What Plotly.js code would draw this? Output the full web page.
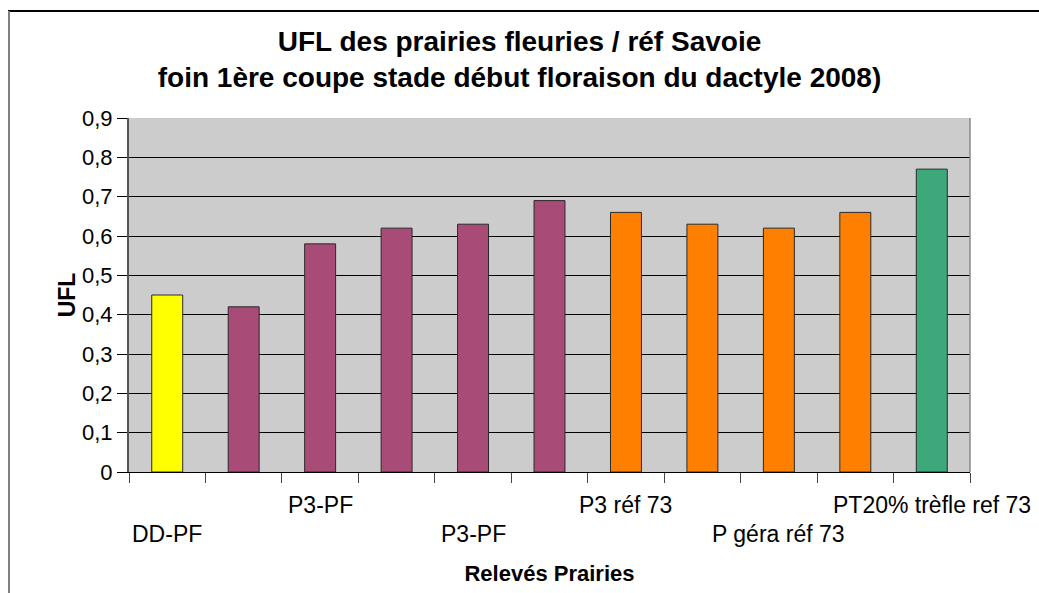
<!DOCTYPE html>
<html>
<head>
<meta charset="utf-8">
<script src="https://cdn.plot.ly/plotly-3.0.1.min.js"></script>
<style>
  html, body { margin: 0; padding: 0; background: #ffffff; }
  #chart { width: 1039px; height: 593px; }
</style>
</head>
<body>
<div id="chart"></div>
<script>
// ---- data ----
const categories = ["DD-PF", "", "P3-PF", "", "P3-PF", "", "P3 réf 73", "", "P géra réf 73", "", "PT20% trèfle ref 73"];
const ufl = [0.45, 0.42, 0.58, 0.62, 0.63, 0.69, 0.66, 0.63, 0.62, 0.66, 0.77];
const groups = ["DD", "PF", "PF", "PF", "PF", "PF", "REF", "REF", "REF", "REF", "PT"];
const labelRow = [2, 0, 1, 0, 2, 0, 1, 0, 2, 0, 1]; // 1 = upper row, 2 = lower row (Excel staggering)
const yTicks = [0, 0.1, 0.2, 0.3, 0.4, 0.5, 0.6, 0.7, 0.8, 0.9];

// ---- styles ----
const groupColors = { DD: "#FFFF00", PF: "#A94B77", REF: "#FF8000", PT: "#3DA87A" };
const FONT = "Liberation Sans, Arial, sans-serif";

const xIdx = categories.map((_, i) => i);
const boundaries = [];
for (let i = 0; i <= categories.length; i++) boundaries.push(i - 0.5);

const trace = {
  type: "bar",
  x: xIdx,
  y: ufl,
  marker: {
    color: groups.map(g => groupColors[g]),
    line: { color: "#2a2a2a", width: 1 }
  },
  hoverinfo: "x+y",
  showlegend: false
};

const annotations = [];
categories.forEach((c, i) => {
  if (!c || !labelRow[i]) return;
  annotations.push({
    x: i, xref: "x", y: 0, yref: "paper",
    text: c, showarrow: false,
    xanchor: "center", yanchor: "middle",
    yshift: labelRow[i] === 1 ? -33 : -62,
    font: { family: FONT, size: 23, color: "#000000" }
  });
});

const layout = {
  width: 1039, height: 593,
  margin: { l: 129, r: 69, t: 118, b: 121, pad: 0 },
  paper_bgcolor: "#ffffff",
  plot_bgcolor: "#cccccc",
  separators: ", ",
  bargap: 0.595,
  font: { family: FONT, color: "#000000" },
  title: {
    text: "<b>UFL des prairies fleuries / réf Savoie<br>foin 1ère coupe stade début floraison du dactyle 2008)</b>",
    x: 0.5, xref: "container", xanchor: "center",
    y: 1 - 51 / 593, yref: "container", yanchor: "middle",
    font: { family: FONT, size: 28, color: "#000000" }
  },
  xaxis: {
    type: "linear",
    range: [-0.5, categories.length - 0.5],
    tickmode: "array",
    tickvals: boundaries,
    ticktext: boundaries.map(() => ""),
    showticklabels: false,
    ticks: "outside", ticklen: 10, tickwidth: 1, tickcolor: "#444444",
    showgrid: false, zeroline: false,
    showline: true, linecolor: "#000000", linewidth: 1,
    fixedrange: true,
    title: {
      text: "<b>Relevés Prairies</b>",
      font: { family: FONT, size: 22, color: "#000000" },
      standoff: 83
    }
  },
  yaxis: {
    range: [0, 0.9],
    tickmode: "array",
    tickvals: yTicks,
    ticktext: yTicks.map(v => v === 0 ? "0" : v.toFixed(1).replace(".", ",")),
    ticks: "outside", ticklen: 10, tickwidth: 1, tickcolor: "#000000",
    tickfont: { family: FONT, size: 22, color: "#000000" },
    showgrid: true, gridcolor: "#000000", gridwidth: 1,
    zeroline: false,
    showline: true, linecolor: "#555555", linewidth: 2,
    fixedrange: true,
    title: {
      text: "<b>UFL</b>",
      font: { family: FONT, size: 23, color: "#000000" },
      standoff: 0
    }
  },
  annotations: annotations,
  shapes: [
    // right edge of plot area
    { type: "line", xref: "paper", yref: "paper", x0: 1, x1: 1, y0: 0, y1: 1,
      line: { color: "#888888", width: 1.5 } },
    // chart frame: top and left edges
    { type: "line", xref: "paper", yref: "paper",
      x0: (8 - 129) / 841, x1: (1045 - 129) / 841, y0: (472 - 11) / 354, y1: (472 - 11) / 354,
      line: { color: "#000000", width: 2 } },
    { type: "line", xref: "paper", yref: "paper",
      x0: (9 - 129) / 841, x1: (9 - 129) / 841, y0: (472 - 11) / 354, y1: (472 - 600) / 354,
      line: { color: "#808080", width: 2 } }
  ]
};

Plotly.newPlot("chart", [trace], layout, { displayModeBar: false, staticPlot: true });
</script>
</body>
</html>
